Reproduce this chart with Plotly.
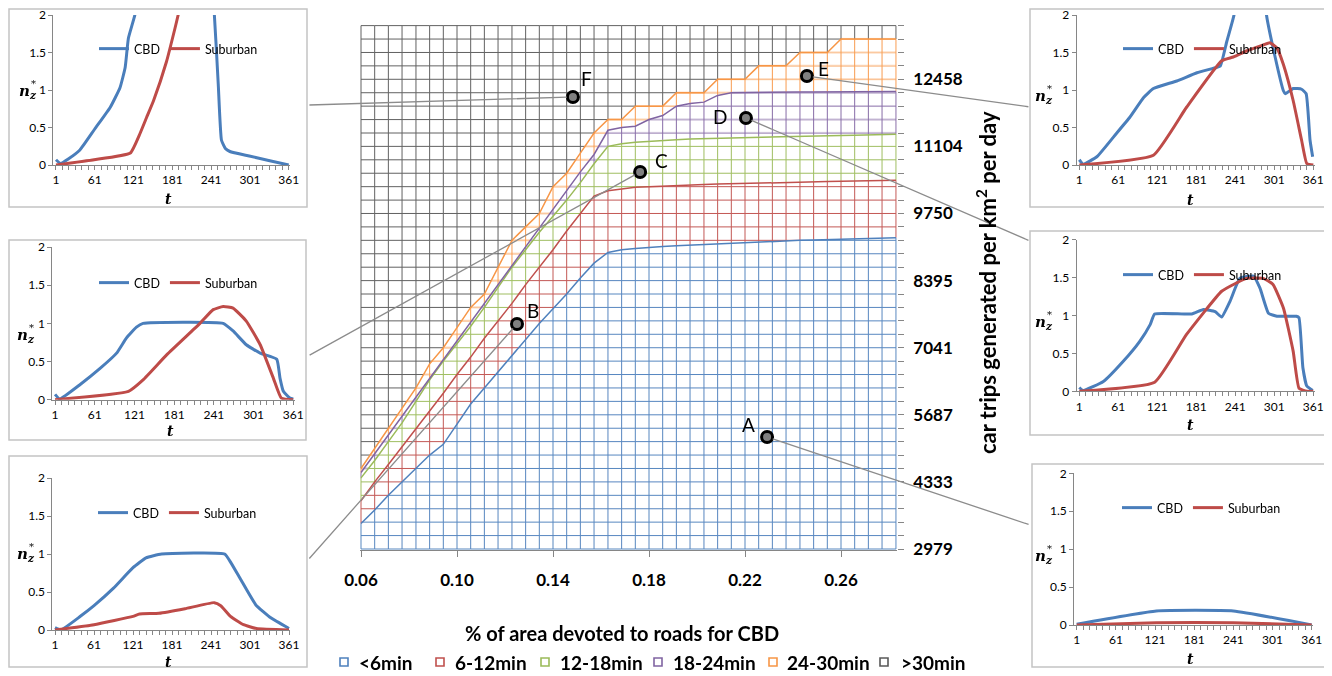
import plotly.graph_objects as go

# The page body adds an 8 px margin, so the figure is drawn 8 px in from the
# window corner; all layout pixel positions below are window pixels.
OFF = 8
W, H = 1332 - OFF, 676 - OFF
FONT = "Lato"

# ---------------- main surface chart data ----------------
road_share = [0.0600, 0.0657, 0.0714, 0.0771, 0.0829, 0.0886, 0.0943, 0.1000,
              0.1057, 0.1114, 0.1171, 0.1229, 0.1286, 0.1343, 0.1400, 0.1457,
              0.1514, 0.1571, 0.1629, 0.1686, 0.1743, 0.1800, 0.1857, 0.1914,
              0.1971, 0.2029, 0.2086, 0.2143, 0.2200, 0.2257, 0.2314, 0.2371,
              0.2429, 0.2486, 0.2543, 0.2600, 0.2657, 0.2714, 0.2771, 0.2829]
trips = [2979, 3250, 3521, 3791, 4062, 4333, 4604, 4875, 5146, 5416,
         5687, 5958, 6229, 6500, 6770, 7041, 7312, 7583, 7854, 8125,
         8395, 8666, 8937, 9208, 9479, 9750, 10020, 10291, 10562, 10833,
         11104, 11374, 11645, 11916, 12187, 12458, 12729, 12999, 13270, 13541]
share_ticks = [0.06, 0.10, 0.14, 0.18, 0.22, 0.26]
share_ticklabels = ["0.06", "0.10", "0.14", "0.18", "0.22", "0.26"]
trip_ticks = [2979, 4333, 5687, 7041, 8395, 9750, 11104, 12458]
trip_ticklabels = ["2979", "4333", "5687", "7041", "8395", "9750", "11104", "12458"]

band_names = ["<6min", "6-12min", "12-18min", "18-24min", "24-30min", ">30min"]
band_colors = ["#4F81BD", "#C0504D", "#9BBB59", "#8064A2", "#F79646", "#595959"]

# upper limit (car trips) of each travel-time band for every road-share column
lim_6 = [3494, 3764, 4062, 4333, 4604, 4875, 5091, 5498, 5904, 6229,
         6554, 6879, 7204, 7529, 7827, 8125, 8450, 8748, 8964, 9018,
         9045, 9072, 9086, 9100, 9113, 9127, 9140, 9154, 9167, 9181,
         9189, 9197, 9208, 9216, 9224, 9232, 9240, 9249, 9257, 9262]
lim_12 = [3954, 4333, 4685, 5037, 5416, 5768, 6121, 6500, 6852, 7231,
          7583, 7935, 8314, 8666, 9018, 9397, 9750, 10102, 10210, 10251,
          10278, 10291, 10305, 10318, 10326, 10335, 10343, 10351, 10359, 10367,
          10372, 10378, 10383, 10389, 10394, 10399, 10405, 10410, 10416, 10421]
lim_18 = [4414, 4766, 5146, 5525, 5958, 6391, 6770, 7123, 7475, 7854,
          8260, 8666, 9018, 9370, 9695, 10020, 10372, 10752, 11104, 11158,
          11185, 11207, 11226, 11239, 11253, 11261, 11269, 11277, 11285, 11293,
          11299, 11304, 11309, 11315, 11320, 11326, 11331, 11336, 11342, 11347]
lim_24 = [4523, 4902, 5281, 5660, 6040, 6419, 6798, 7177, 7556, 7935,
          8314, 8693, 9072, 9452, 9831, 10210, 10589, 10941, 11429, 11483,
          11510, 11645, 11727, 11916, 11970, 11997, 12133, 12187, 12187, 12187,
          12192, 12198, 12200, 12203, 12206, 12209, 12211, 12214, 12214, 12214]
lim_30 = [4604, 5010, 5416, 5823, 6229, 6716, 7041, 7447, 7854, 8125,
          8666, 9208, 9479, 9750, 10291, 10562, 10968, 11374, 11645, 11645,
          11916, 11916, 11916, 12187, 12187, 12187, 12458, 12458, 12458, 12729,
          12729, 12729, 12999, 12999, 12999, 13270, 13270, 13270, 13270, 13270]

point_names = ["A", "B", "C", "D", "E", "F"]
point_share = [0.2292, 0.1250, 0.1763, 0.2204, 0.2458, 0.1483]
point_trips = [5240, 7520, 10587, 11677, 12525, 12100]

# ---------------- inset charts data ----------------
t_ticks = [1, 61, 121, 181, 241, 301, 361]
n_ticks = [0, 0.5, 1, 1.5, 2]
n_ticklabels = ["0", "0.5", "1", "1.5", "2"]

F_cbd_t = [1, 8, 20, 38, 61, 85, 100, 108, 113, 123, 135, 238, 246, 252, 257, 263, 270, 300, 330, 361]
F_cbd_n = [0.07, 0.02, 0.08, 0.20, 0.48, 0.77, 1.03, 1.30, 1.69, 2.0, 2.7, 2.7, 2.0, 1.08, 0.33, 0.22, 0.18, 0.12, 0.06, 0.0]
F_sub_t = [1, 60, 116, 131, 141, 152, 172, 185, 190, 200, 361]
F_sub_n = [0.0, 0.07, 0.16, 0.42, 0.63, 0.86, 1.38, 1.82, 2.0, 2.4, 2.4]

C_cbd_t = [1, 8, 39, 69, 94, 109, 124, 134, 255, 270, 290, 311, 336, 341, 346, 356, 361]
C_cbd_n = [0.07, 0.01, 0.20, 0.41, 0.61, 0.81, 0.95, 1.0, 1.0, 0.90, 0.72, 0.61, 0.53, 0.28, 0.11, 0.02, 0.01]
C_sub_t = [1, 112, 134, 170, 220, 240, 255, 270, 290, 311, 331, 343, 361]
C_sub_n = [0.0, 0.11, 0.26, 0.59, 1.0, 1.18, 1.22, 1.20, 1.03, 0.72, 0.28, 0.02, 0.0]

B_cbd_t = [1, 10, 40, 61, 91, 121, 141, 165, 262, 272, 287, 310, 333, 361]
B_cbd_n = [0.03, 0.0, 0.18, 0.32, 0.55, 0.82, 0.95, 1.0, 1.0, 0.88, 0.66, 0.33, 0.16, 0.02]
B_sub_t = [1, 61, 121, 131, 161, 201, 246, 256, 271, 291, 311, 361]
B_sub_n = [0.0, 0.07, 0.18, 0.21, 0.22, 0.28, 0.36, 0.32, 0.18, 0.07, 0.02, 0.0]

E_cbd_t = [1, 7, 28, 58, 79, 100, 115, 151, 182, 212, 218, 228, 239, 245, 284, 289, 302, 315, 318, 330, 343, 350, 356, 360]
E_cbd_n = [0.07, 0.01, 0.11, 0.42, 0.64, 0.90, 1.02, 1.12, 1.23, 1.30, 1.32, 1.65, 2.0, 2.5, 2.5, 2.0, 1.45, 0.99, 0.95, 1.02, 1.01, 0.95, 0.33, 0.11]
E_sub_t = [1, 115, 166, 220, 238, 258, 284, 294, 305, 315, 330, 343, 351, 361]
E_sub_n = [0.0, 0.13, 0.77, 1.39, 1.44, 1.52, 1.60, 1.63, 1.56, 1.34, 0.86, 0.33, 0.02, 0.0]

D_cbd_t = [1, 7, 38, 69, 94, 110, 117, 174, 192, 210, 220, 233, 248, 269, 279, 292, 305, 335, 339, 345, 351, 360]
D_cbd_n = [0.05, 0.01, 0.13, 0.40, 0.66, 0.88, 1.02, 1.02, 1.08, 1.05, 0.98, 1.19, 1.49, 1.52, 1.36, 1.03, 0.99, 0.99, 0.97, 0.31, 0.07, 0.01]
D_sub_t = [1, 117, 166, 220, 243, 258, 284, 299, 315, 330, 339, 351, 361]
D_sub_n = [0.0, 0.12, 0.75, 1.32, 1.43, 1.49, 1.49, 1.41, 1.10, 0.53, 0.04, 0.0, 0.0]

A_cbd_t = [1, 123, 241, 361]
A_cbd_n = [0.01, 0.185, 0.185, 0.0]
A_sub_t = [1, 123, 241, 361]
A_sub_n = [0.0, 0.03, 0.03, 0.0]

series_names = ["CBD", "Suburban"]
series_colors = ["#4A7EBB", "#BE4B48"]


def pxx(x):
    return (x - OFF) / W


def pxy(y):
    return 1 - (y - OFF) / H


fig = go.Figure()

# ---------------- main chart: wire grid coloured by band ----------------
limits = [lim_6, lim_12, lim_18, lim_24, lim_30]


def band_at(i0, i1, t, y):
    return sum(1 for L in limits if y > L[i0] + (L[i1] - L[i0]) * t)


seg_x = [[] for _ in band_names]
seg_y = [[] for _ in band_names]
ylo, yhi = trips[0], trips[-1]
for i, x in enumerate(road_share):
    cuts = sorted(set([ylo, yhi] + [L[i] for L in limits if ylo < L[i] < yhi]))
    for a, b in zip(cuts[:-1], cuts[1:]):
        band = band_at(i, i, 0.0, (a + b) / 2)
        seg_x[band] += [x, x, None]
        seg_y[band] += [a, b, None]
for y in trips:
    for i in range(len(road_share) - 1):
        ts = {0.0, 1.0}
        for L in limits:
            a, c = L[i], L[i + 1]
            if (a - y) * (c - y) < 0:
                ts.add((y - a) / (c - a))
        ts = sorted(ts)
        x0, x1 = road_share[i], road_share[i + 1]
        for ta, tb in zip(ts[:-1], ts[1:]):
            if tb - ta < 1e-9:
                continue
            band = band_at(i, i + 1, (ta + tb) / 2, y)
            seg_x[band] += [x0 + (x1 - x0) * ta, x0 + (x1 - x0) * tb, None]
            seg_y[band] += [y, y, None]

for b, name in enumerate(band_names):
    fig.add_trace(go.Scatter(x=seg_x[b], y=seg_y[b], mode="lines", name=name,
                             line=dict(color=band_colors[b], width=1), opacity=0.95,
                             showlegend=False, hoverinfo="skip", xaxis="x", yaxis="y"))
for k, L in enumerate(limits):
    fig.add_trace(go.Scatter(x=road_share, y=L, mode="lines", showlegend=False,
                             line=dict(color=band_colors[k], width=1.5), hoverinfo="skip",
                             xaxis="x", yaxis="y"))

fig.add_trace(go.Scatter(
    x=point_share, y=point_trips, mode="markers",
    marker=dict(size=11, color="#808080", line=dict(color="#000", width=3)),
    showlegend=False, cliponaxis=False, xaxis="x", yaxis="y"))

# main axes geometry (window pixels)
row_px = 13.42
col_px = 2400.0  # px per unit share
x_left_px = 361 - 1
x_right_px = 361 + (road_share[-1] - road_share[0]) * col_px + 1
y_bot_px = 549 + 1
y_top_px = 549 - (len(trips) - 1) * row_px - 1
ypad = (trips[1] - trips[0]) / row_px

fig.update_layout(
    xaxis=dict(domain=[pxx(x_left_px), pxx(x_right_px)],
               range=[road_share[0] - 1 / col_px, road_share[-1] + 1 / col_px],
               tickvals=share_ticks, ticktext=share_ticklabels, ticks="outside", ticklen=6,
               tickcolor="#868686", showline=True, linecolor="#868686", linewidth=1,
               showgrid=False, zeroline=False, ticklabelstandoff=9,
               tickfont=dict(family=FONT, size=17, color="#000", weight="bold")),
    yaxis=dict(domain=[pxy(y_bot_px), pxy(y_top_px)], side="right", anchor="x",
               range=[trips[0] - ypad, trips[-1] + ypad],
               tickvals=trip_ticks, ticktext=trip_ticklabels, ticks="outside", ticklen=6,
               tickcolor="#868686", showline=False, showgrid=False, zeroline=False,
               minor=dict(tickvals=trips, ticks="outside", ticklen=6, tickcolor="#868686"),
               ticklabelstandoff=6,
               tickfont=dict(family=FONT, size=17, color="#000", weight="bold")),
)

# ---------------- insets ----------------
inset_data = {
    "F": (F_cbd_t, F_cbd_n, F_sub_t, F_sub_n),
    "C": (C_cbd_t, C_cbd_n, C_sub_t, C_sub_n),
    "B": (B_cbd_t, B_cbd_n, B_sub_t, B_sub_n),
    "E": (E_cbd_t, E_cbd_n, E_sub_t, E_sub_n),
    "D": (D_cbd_t, D_cbd_n, D_sub_t, D_sub_n),
    "A": (A_cbd_t, A_cbd_n, A_sub_t, A_sub_n),
}
insets = [
    dict(name="F", box=(2, 4, 307, 207), x=(53.4, 290.0), y=(165, 15), yt=(28, 91), tt=(168, 199), leg=(99, 49)),
    dict(name="C", box=(2, 240, 306, 440), x=(52.4, 294.6), y=(399.7, 247), yt=(26, 335), tt=(170, 431), leg=(99, 283)),
    dict(name="B", box=(2, 456, 307, 667), x=(52.4, 290.3), y=(630, 478), yt=(26, 554), tt=(168, 662), leg=(98, 513)),
    dict(name="E", box=(1030, 4, 1328, 207), x=(1076.7, 1314.6), y=(165, 15), yt=(1044, 96), tt=(1190, 200), leg=(1123, 49)),
    dict(name="D", box=(1030, 231, 1328, 435), x=(1076.7, 1314.6), y=(391.3, 239.7), yt=(1044, 322), tt=(1190, 425), leg=(1123, 275)),
    dict(name="A", box=(1032, 464, 1328, 667), x=(1074.1, 1313.0), y=(625, 473.3), yt=(1044, 556), tt=(1190, 659), leg=(1122, 508)),
]

shapes = []
annotations = []
tickfont_small = dict(family=FONT, size=12, color="#000")
for k, ins in enumerate(insets, start=2):
    xa, ya, lg = f"x{k}", f"y{k}", f"legend{k}"
    ct, cn, st, sn = inset_data[ins["name"]]
    for (tt, nn), nm, col in zip([(ct, cn), (st, sn)], series_names, series_colors):
        fig.add_trace(go.Scatter(x=tt, y=nn, mode="lines", name=nm,
                                 line=dict(color=col, width=3, shape="spline", smoothing=0.4),
                                 xaxis=xa, yaxis=ya, legend=lg, showlegend=True, hoverinfo="skip"))
    fig.update_layout(**{
        f"xaxis{k}": dict(domain=[pxx(ins["x"][0]), pxx(ins["x"][1])], range=[-3, 363], anchor=ya,
                          tickvals=t_ticks, ticks="outside", ticklen=4, tickcolor="#868686",
                          showline=True, linecolor="#868686", linewidth=1, showgrid=False, zeroline=False,
                          minor=dict(tickvals=list(range(1, 362, 10)), ticks="outside", ticklen=4, tickcolor="#868686"),
                          tickfont=tickfont_small, ticklabeloverflow="allow"),
        f"yaxis{k}": dict(domain=[pxy(ins["y"][0]), pxy(ins["y"][1])], range=[0, 2], anchor=xa,
                          tickvals=n_ticks, ticktext=n_ticklabels, ticks="outside", ticklen=4, tickcolor="#868686",
                          showline=True, linecolor="#868686", linewidth=1, showgrid=False, zeroline=False,
                          tickfont=tickfont_small, ticklabeloverflow="allow"),
        lg: dict(x=pxx(ins["leg"][0] - 5), y=pxy(ins["leg"][1]), xanchor="left", yanchor="middle",
                 orientation="h", bgcolor="rgba(0,0,0,0)",
                 font=dict(family=FONT, size=12.5, color="#000"), itemwidth=30),
    })
    x0, y0, x1, y1 = ins["box"]
    shapes.append(dict(type="rect", xref="paper", yref="paper", x0=pxx(max(x0, OFF + 1)), x1=pxx(x1),
                       y0=pxy(y1), y1=pxy(max(y0, OFF + 1)), line=dict(color="#C4C4C4", width=1.5),
                       layer="below"))
    yx, yy = ins["yt"]
    annotations.append(dict(x=pxx(yx), y=pxy(yy), xref="paper", yref="paper",
                            xanchor="center", yanchor="middle",
                            text="<b><i>n</i></b><sub><b><i>z</i></b></sub>", showarrow=False,
                            font=dict(family="DejaVu Serif", size=15, color="#000")))
    annotations.append(dict(x=pxx(yx + 5), y=pxy(yy - 8), xref="paper", yref="paper",
                            xanchor="center", yanchor="middle",
                            text="*", showarrow=False, font=dict(family="DejaVu Serif", size=10, color="#000")))
    annotations.append(dict(x=pxx(ins["tt"][0]), y=pxy(ins["tt"][1]), xref="paper", yref="paper",
                            xanchor="center", yanchor="middle",
                            text="<b><i>t</i></b>", showarrow=False,
                            font=dict(family="DejaVu Serif", size=14, color="#000")))

# point labels (offsets in pixels from each point)
label_shift = {"A": (-19, 12), "B": (16, 13), "C": (21, 12), "D": (-26, 1), "E": (17, 7), "F": (14, 19)}
for nm, sx, sy in zip(point_names, point_share, point_trips):
    dx, dy = label_shift[nm]
    annotations.append(dict(x=sx, y=sy, xref="x", yref="y", text=nm, showarrow=False,
                            xanchor="center", yanchor="middle", xshift=dx, yshift=dy,
                            font=dict(family=FONT, size=19, color="#000")))

# connectors from surface points to insets (pixel offsets of the tail)
connector_px = {"A": (263, 88), "B": (-209, 236), "C": (-332, 184),
                "D": (284, 123), "E": (223, 31), "F": (-265, 8)}
for nm, sx, sy in zip(point_names, point_share, point_trips):
    dx, dy = connector_px[nm]
    annotations.append(dict(x=sx, y=sy, xref="x", yref="y", ax=dx, ay=dy, axref="pixel", ayref="pixel",
                            text="", showarrow=True, arrowhead=0, arrowwidth=1.3, arrowcolor="#8C8C8C",
                            standoff=6))

# axis titles
annotations.append(dict(x=pxx(622), y=pxy(633), xref="paper", yref="paper", showarrow=False,
                        xanchor="center", yanchor="middle",
                        text="% of area devoted to roads for CBD",
                        font=dict(family=FONT, size=20, color="#000", weight="bold")))
annotations.append(dict(x=pxx(986), y=pxy(283), xref="paper", yref="paper", showarrow=False, textangle=-90,
                        xanchor="center", yanchor="middle",
                        text="car trips generated per km<sup>2</sup> per day",
                        font=dict(family=FONT, size=22, color="#000", weight="bold")))

# band legend (manual)
leg_sq = [344, 440, 545, 658, 773, 884]
leg_tx = [357, 453, 558, 671, 785, 899]
leg_y = 662
for name, col, sxp, txp in zip(band_names, band_colors, leg_sq, leg_tx):
    shapes.append(dict(type="rect", xref="paper", yref="paper", x0=pxx(sxp - 4), x1=pxx(sxp + 4),
                       y0=pxy(leg_y + 4), y1=pxy(leg_y - 4), line=dict(color=col, width=1.6)))
    annotations.append(dict(x=pxx(txp), y=pxy(leg_y), xref="paper", yref="paper", showarrow=False,
                            xanchor="left", yanchor="middle", text=name,
                            font=dict(family=FONT, size=19, color="#000", weight="bold")))

fig.update_layout(
    width=W, height=H, margin=dict(l=0, r=0, t=0, b=0, autoexpand=False),
    paper_bgcolor="white", plot_bgcolor="white",
    font=dict(family=FONT, color="#000"),
    shapes=shapes, annotations=annotations, showlegend=True,
)

fig.write_html("out.html")
